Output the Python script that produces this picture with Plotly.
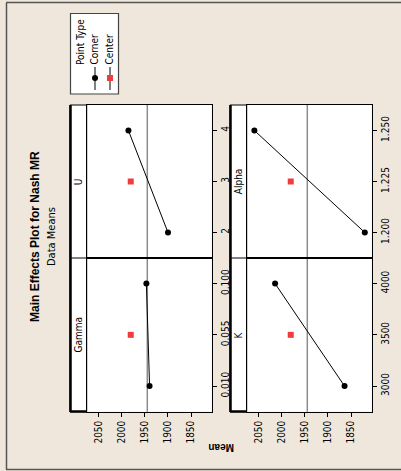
import plotly.graph_objects as go

# ---- data ----
factors = ["U", "Alpha", "Gamma", "K"]
corner_levels = {
    "U": [2, 4],
    "Alpha": [1.200, 1.250],
    "Gamma": [0.010, 0.100],
    "K": [3000, 4000],
}
corner_means = {
    "U": [1900, 1986],
    "Alpha": [1820, 2060],
    "Gamma": [1940, 1947],
    "K": [1864, 2015],
}
center_levels = {"U": 3, "Alpha": 1.225, "Gamma": 0.055, "K": 3500}
center_mean = 1981
grand_mean = 1945
factor_ticks = {
    "U": ([2, 3, 4], ["2", "3", "4"]),
    "Alpha": ([1.200, 1.225, 1.250], ["1.200", "1.225", "1.250"]),
    "Gamma": ([0.010, 0.055, 0.100], ["0.010", "0.055", "0.100"]),
    "K": ([3000, 3500, 4000], ["3000", "3500", "4000"]),
}
factor_ranges = {
    "U": [1.5, 4.5],
    "Alpha": [1.1875, 1.2625],
    "Gamma": [-0.0125, 0.1225],
    "K": [2750, 4250],
}
mean_ticks = [1850, 1900, 1950, 2000, 2050]
mean_range = [2076.7, 1805]

W, H = 401, 471
def fx(p): return p / W
def fy(p): return 1 - p / H

BG = "#EFE7DB"
FONT = "Liberation Sans Narrow, DejaVu Sans Condensed, Liberation Sans, sans-serif"
RED = "#F03C3C"

# panel geometry (pixels)
cols = {0: (86.7, 211.7), 1: (246.7, 371.7)}
rows = {0: (105, 258), 1: (258, 411.7)}
layout_pos = {"U": (0, 0, 1), "Alpha": (0, 1, 2), "Gamma": (1, 0, 3), "K": (1, 1, 4)}

fig = go.Figure()
shapes = []
annotations = []

def label(px, py, text, size=10, angle=-90, family=FONT):
    annotations.append(dict(x=fx(px), y=fy(py), xref="paper", yref="paper",
                            xanchor="center", yanchor="middle",
                            text=text, showarrow=False, textangle=angle,
                            font=dict(family=family, size=size, color="black")))

layout = dict(
    width=W, height=H, autosize=False,
    margin=dict(l=0, r=0, t=0, b=0),
    paper_bgcolor=BG, plot_bgcolor="white",
    showlegend=False,
    font=dict(family=FONT, size=10, color="black"),
)

for f in factors:
    r, c, i = layout_pos[f]
    xs = "" if i == 1 else str(i)
    xa, ya = "xaxis" + xs, "yaxis" + xs
    xr, yr = "x" + xs, "y" + xs
    x0, x1 = cols[c]
    y0, y1 = rows[r]
    layout[xa] = dict(
        domain=[fx(x0), fx(x1)], anchor=yr, range=mean_range,
        showgrid=False, zeroline=False, showline=True, mirror=True,
        linecolor="black", linewidth=1,
        tickvals=mean_ticks, ticktext=[str(v) for v in mean_ticks],
        ticks="outside" if r == 1 else "", ticklen=4, tickcolor="black",
        showticklabels=(r == 1), tickangle=-90,
        tickfont=dict(family=FONT, size=10),
    )
    tv, tt = factor_ticks[f]
    layout[ya] = dict(
        domain=[fy(y1), fy(y0)], anchor=xr, range=factor_ranges[f],
        side="right", showgrid=False, zeroline=False, showline=True, mirror=True,
        linecolor="black", linewidth=1,
        tickvals=tv, ticktext=tt, ticks="outside", ticklen=4, tickcolor="black",
        tickangle=-90, tickfont=dict(family=FONT, size=10),
    )
    # reference line at grand mean
    shapes.append(dict(type="line", xref=xr, yref=yr + " domain",
                       x0=grand_mean, x1=grand_mean, y0=0, y1=1,
                       line=dict(color="#8C8C8C", width=1.5), layer="below"))
    fig.add_trace(go.Scatter(
        x=corner_means[f], y=corner_levels[f], xaxis=xr, yaxis=yr,
        mode="lines+markers", line=dict(color="black", width=1),
        marker=dict(symbol="circle", size=6, color="black"),
        cliponaxis=False))
    fig.add_trace(go.Scatter(
        x=[center_mean], y=[center_levels[f]], xaxis=xr, yaxis=yr,
        mode="markers", marker=dict(symbol="square", size=6, color=RED),
        cliponaxis=False))
    # strip label
    label(cols[c][0] - 8, (y0 + y1) / 2, f)

# strips & frame decorations
for c in (0, 1):
    sx1 = cols[c][0]
    sx0 = sx1 - 16.7
    shapes.append(dict(type="rect", xref="paper", yref="paper",
                       x0=fx(sx0), x1=fx(sx1), y0=fy(411.7), y1=fy(105),
                       fillcolor="white", line=dict(color="black", width=1), layer="below"))
    shapes.append(dict(type="line", xref="paper", yref="paper",
                       x0=fx(sx0), x1=fx(sx1), y0=fy(258), y1=fy(258),
                       line=dict(color="black", width=1)))
    shapes.append(dict(type="line", xref="paper", yref="paper",
                       x0=fx(sx0 + 0.5), x1=fx(sx0 + 0.5), y0=fy(412), y1=fy(105),
                       line=dict(color="black", width=2.5)))
    shapes.append(dict(type="line", xref="paper", yref="paper",
                       x0=fx(sx0), x1=fx(sx1), y0=fy(411.5), y1=fy(411.5),
                       line=dict(color="black", width=2.5)))

# outer frame
shapes.append(dict(type="line", xref="paper", yref="paper",
                   x0=fx(6.5), x1=fx(6.5), y0=fy(3), y1=fy(469.5),
                   line=dict(color="#555555", width=1.5)))
shapes.append(dict(type="line", xref="paper", yref="paper",
                   x0=fx(6), x1=fx(401), y0=fy(2.5), y1=fy(2.5),
                   line=dict(color="#555555", width=1.5)))
shapes.append(dict(type="line", xref="paper", yref="paper",
                   x0=fx(6), x1=fx(401), y0=fy(469.5), y1=fy(469.5),
                   line=dict(color="#555555", width=1.5)))

# legend box
shapes.append(dict(type="rect", xref="paper", yref="paper",
                   x0=fx(70.5), x1=fx(118.5), y0=fy(94), y1=fy(13.5),
                   fillcolor="white", line=dict(color="#444444", width=1.2)))
label(81, 42, "Point Type")
for lx, name in ((95, "Corner"), (110, "Center")):
    shapes.append(dict(type="line", xref="paper", yref="paper",
                       x0=fx(lx), x1=fx(lx), y0=fy(90), y1=fy(67),
                       line=dict(color="black", width=1)))
    label(lx - 1, 49.5, name)
shapes.append(dict(type="circle", xref="paper", yref="paper",
                   x0=fx(92), x1=fx(98), y0=fy(81), y1=fy(75),
                   fillcolor="black", line=dict(color="black", width=0)))
shapes.append(dict(type="rect", xref="paper", yref="paper",
                   x0=fx(107), x1=fx(113), y0=fy(81), y1=fy(75),
                   fillcolor=RED, line=dict(color=RED, width=0)))

# titles
label(35, 237, "<b>Main Effects Plot for Nash MR</b>", size=12,
      family="Liberation Sans, sans-serif")
label(51, 236, "Data Means", size=11)
label(221, 448, "<b>Mean</b>", size=10, angle=180, family="Liberation Sans, sans-serif")

layout["shapes"] = shapes
layout["annotations"] = annotations
fig.update_layout(**layout)
fig.write_html("out.html", config={"displayModeBar": False},
               post_script="document.body.style.margin='0';document.body.style.overflow='hidden';")
